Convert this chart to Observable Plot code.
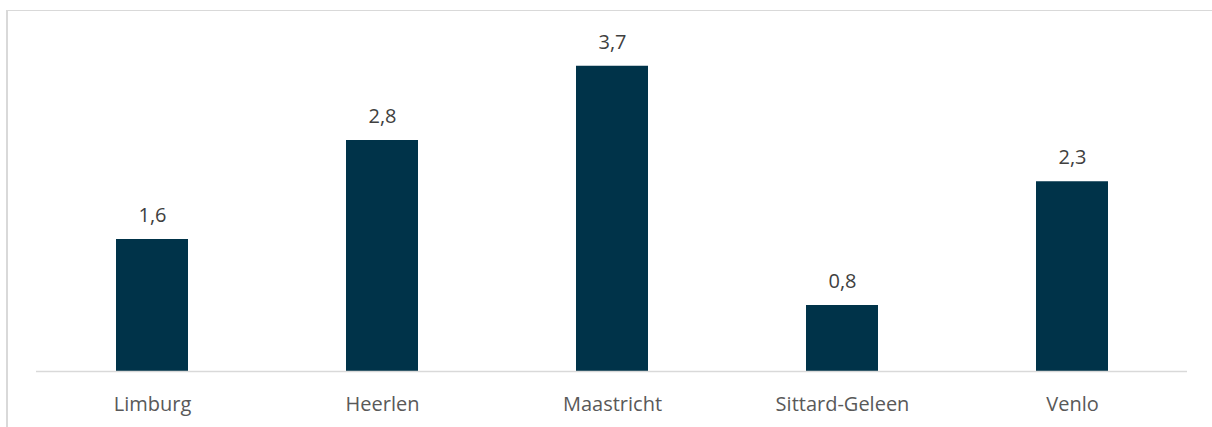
<!DOCTYPE html>
<html><head><meta charset="utf-8">
<script src="https://cdn.jsdelivr.net/npm/d3@7"></script>
<script src="https://cdn.jsdelivr.net/npm/@observablehq/plot@0.6"></script>
<style>
html,body{margin:0;padding:0;background:#fff;width:1212px;height:427px;overflow:hidden;}
#frame{position:absolute;left:6px;top:10px;width:1300px;height:500px;border-top:1.5px solid #d9d9d9;border-left:2px solid #d9d9d9;box-sizing:border-box;}
#chart{position:absolute;left:0;top:0;}
</style></head>
<body>
<div id="frame"></div>
<div id="chart"></div>
<script>
const categories = ["Limburg", "Heerlen", "Maastricht", "Sittard-Geleen", "Venlo"];
const values = [1.6, 2.8, 3.7, 0.8, 2.3];

const data = categories.map((c, i) => ({cat: c, val: values[i]}));
const fmt = v => d3.format(".1f")(v).replace(".", ",");
const font = "'Open Sans', sans-serif";

const chart = Plot.plot({
  width: 1212,
  height: 427,
  marginLeft: 36,
  marginRight: 25,
  marginTop: 41,
  marginBottom: 56,
  style: {fontFamily: font, background: "transparent", overflow: "visible"},
  x: {domain: categories, paddingInner: 0.687, paddingOuter: 0.3435, label: null},
  y: {domain: [0, 4], axis: null},
  marks: [
    Plot.barY(data, {x: "cat", y: "val", fill: "#003349"}),
    Plot.ruleY([0], {stroke: "#d9d9d9", strokeWidth: 1.5}),
    Plot.text(data, {x: "cat", y: "val", text: d => fmt(d.val), dy: -24, fontSize: 20, fill: "#404040"}),
    Plot.axisX({tickSize: 0, tickPadding: 25, fontSize: 20, fill: "#595959", label: null})
  ]
});
document.getElementById("chart").appendChild(chart);
</script>
</body></html>
